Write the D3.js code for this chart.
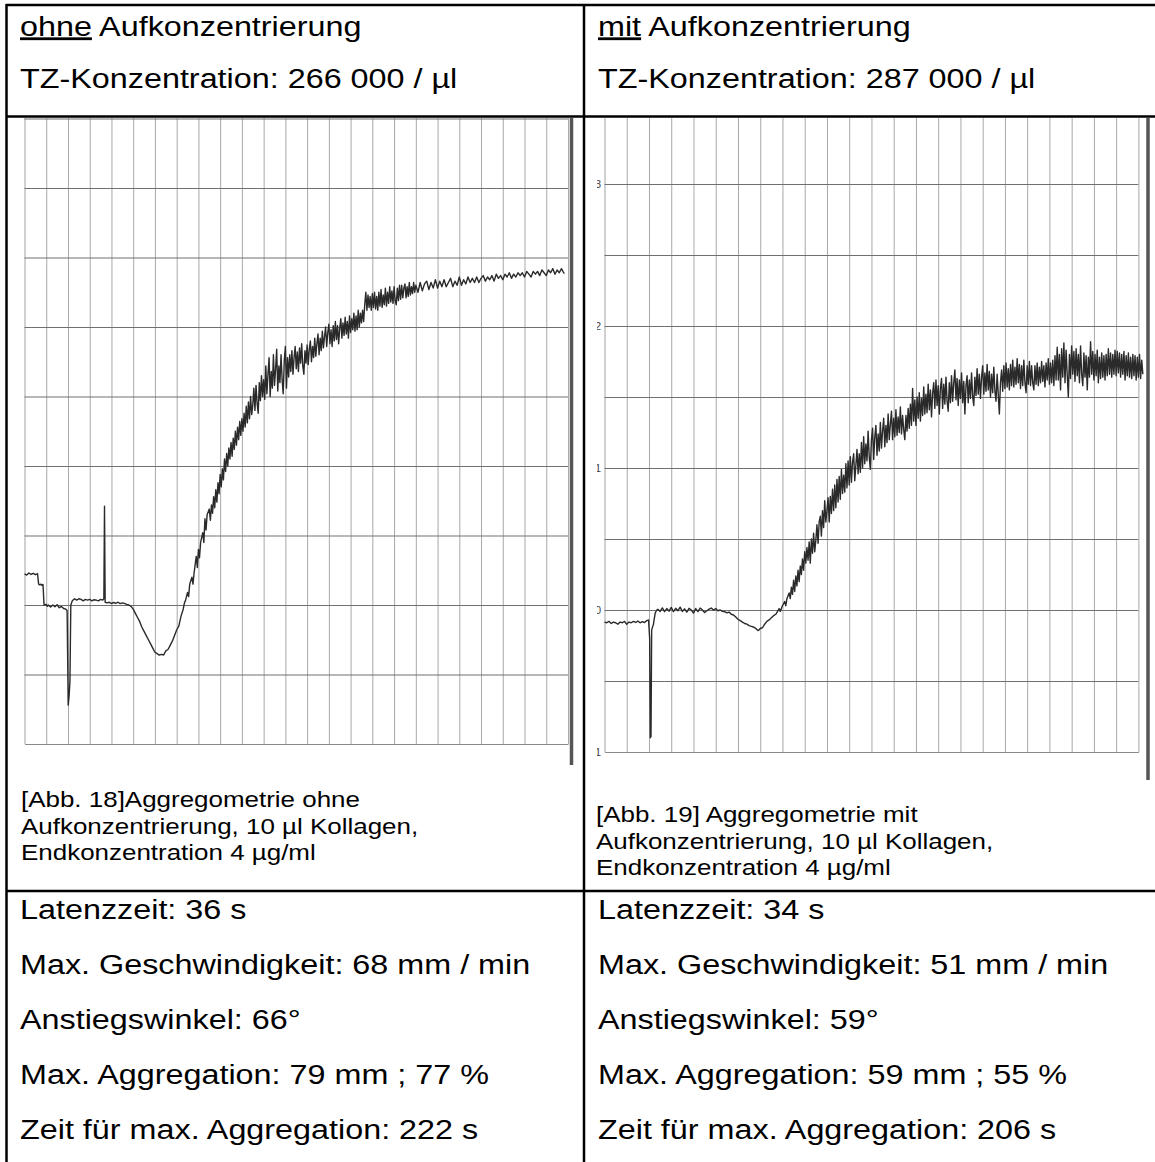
<!DOCTYPE html>
<html>
<head>
<meta charset="utf-8">
<script src="https://cdn.jsdelivr.net/npm/d3@7"></script>
<style>
  body { margin: 0; background: #fff; }
  text { font-family: "Liberation Sans", Arial, sans-serif; }
</style>
</head>
<body>
<svg id="page"></svg>
<script>
// ---- data ----
const timeTicks = [0, 50, 100, 150, 200];
const timeTickLabels = ["0", "50", "1:40", "2:30", "3:20"];
const levelTicks = [-1, 0, 1, 2, 3];
const levelTickLabels = ["-1", "0", "1", "2", "3"];

const headerTitles = [["ohne", " Aufkonzentrierung"], ["mit", " Aufkonzentrierung"]];
const plateletCounts = ["TZ-Konzentration: 266 000 / µl", "TZ-Konzentration: 287 000 / µl"];
const captionsOhne = ["[Abb. 18]Aggregometrie ohne", "Aufkonzentrierung, 10 µl Kollagen,", "Endkonzentration 4 µg/ml"];
const captionsMit = ["[Abb. 19] Aggregometrie mit", "Aufkonzentrierung, 10 µl Kollagen,", "Endkonzentration 4 µg/ml"];
const statLabels = ["Latenzzeit", "Max. Geschwindigkeit", "Anstiegswinkel", "Max. Aggregation", "Zeit für max. Aggregation"];
const statsOhne = ["36 s", "68 mm / min", "66°", "79 mm ; 77 %", "222 s"];
const statsMit = ["34 s", "51 mm / min", "59°", "59 mm ; 55 %", "206 s"];

// [time s, level]
const traceOhne = [
  [0,0.225],[1,0.215],[2,0.23],[3,0.22],[4,0.228],[5,0.218],[6,0.225],[6.5,0.15],[7,0.145],[7.5,0.15],[8,0.142],[8.5,0.148],
  [9,0.0],[10,0.005],[10.5,-0.01],[11,0.0],[12,-0.015],[13,0.0],[14,-0.012],[15,0.002],[16,-0.02],[17,-0.01],[18,-0.025],[19,-0.03],[19.6,-0.04],
  [20.1,-0.72],[20.5,-0.66],[20.9,-0.55],[21.3,0.0],[22,0.03],[23,0.045],[24,0.035],[25,0.045],[26,0.04],[27,0.03],[28,0.04],[29,0.035],
  [30,0.04],[31,0.03],[32,0.038],[33,0.035],[34,0.03],[35,0.04],[36,0.035],[36.5,0.045],[36.8,0.71],[37.1,0.02],[38,0.015],[39,0.02],
  [40,0.01],[41,0.018],[42,0.012],[43,0.02],[44,0.01],[45,0.015],[46,0.012],[47,0.005],[48,0.0],[49,-0.01],
  [50,-0.03],[51,-0.06],[52,-0.09],[53,-0.12],[54,-0.16],[55,-0.19],[56,-0.22],[57,-0.25],[58,-0.28],[59,-0.31],
  [60,-0.34],[61,-0.35],[62,-0.36],[63,-0.355],[64,-0.36],[65,-0.33],[66,-0.32],[67,-0.29],[68,-0.26],[69,-0.22],
  [70,-0.18],[71,-0.15],[72,-0.08],[73,-0.03],[73.5,0.01],[74,0.03],[75,0.09],[75.5,0.06],[76,0.15],[77,0.2],[77.5,0.15],[78,0.23],
  [79,0.35],[79.5,0.27],[80,0.4],[80.5,0.34],[81,0.45],[82,0.52],[82.5,0.45],[83,0.62],[83.5,0.54],[84,0.65],[85,0.69],[85.5,0.61],
  [86,0.72],[86.5,0.66],[87,0.78],[87.5,0.7],[88,0.83],[88.5,0.74],[89,0.88],[89.5,0.8],[90,0.94],[90.5,0.85],[91,0.98],[91.5,0.9],
  [92,1.05],[92.5,0.96],[93,1.09],[93.5,1.0],[94,1.13],[94.5,1.05],[95,1.17],[95.5,1.07],[96,1.2],[96.5,1.12],[97,1.25],[97.5,1.15],
  [98,1.28],[98.5,1.19],[99,1.32],[99.5,1.22],[100,1.34],[100.5,1.25],[101,1.38],[101.5,1.28],[102,1.43],[102.5,1.31],[103,1.46],
  [103.5,1.34],[104,1.5],[104.5,1.37],[105,1.44],[105.5,1.56],[106,1.4],[106.5,1.58],[107,1.45],[107.5,1.38],[108,1.6],[108.5,1.47],
  [109,1.65],[109.5,1.5],[110,1.62],[110.5,1.48],[111,1.72],[111.5,1.52],[112,1.66],[112.5,1.78],[113,1.5],[113.5,1.68],[114,1.56],
  [114.5,1.8],[115,1.58],[115.5,1.7],[116,1.84],[116.5,1.54],[117,1.72],[117.5,1.6],[118,1.8],[118.5,1.62],[119,1.52],[119.5,1.76],
  [120,1.86],[120.5,1.56],[121,1.78],[121.5,1.64],[122,1.8],[122.5,1.68],[123,1.83],[123.5,1.66],[124,1.78],[124.5,1.86],[125,1.7],
  [125.5,1.82],[126,1.68],[126.5,1.85],[127,1.74],[127.5,1.88],[128,1.72],[128.5,1.66],[129,1.83],[129.5,1.74],[130,1.87],[130.5,1.73],
  [131,1.84],[131.5,1.9],[132,1.75],[132.5,1.86],[133,1.78],[133.5,1.92],[134,1.79],[134.5,1.88],[135,1.95],[135.5,1.8],[136,1.92],
  [136.5,1.83],[137,1.97],[137.5,1.85],[138,1.93],[138.5,2.0],[139,1.86],[139.5,1.96],[140,2.02],[140.5,1.88],[141,1.98],[141.5,1.86],
  [142,2.01],[142.5,1.9],[143,2.04],[143.5,1.91],[144,2.01],[144.5,1.88],[145,1.99],[145.5,2.06],[146,1.92],[146.5,2.03],[147,1.94],
  [147.5,2.07],[148,1.95],[148.5,2.04],[149,1.92],[149.5,2.08],[150,1.96],[150.5,2.06],[151,1.98],[151.5,2.1],[152,1.97],[152.5,2.08],
  [153,1.98],[153.5,2.12],[154,2.0],[154.5,2.1],[155,2.03],[155.5,2.12],[156,2.04],[156.5,2.16],[157,2.25],[157.5,2.12],[158,2.23],
  [158.5,2.14],[159,2.22],[159.5,2.12],[160,2.24],[160.5,2.14],[161,2.25],[161.5,2.13],[162,2.22],[162.5,2.12],[163,2.25],[163.5,2.15],
  [164,2.27],[164.5,2.14],[165,2.23],[165.5,2.16],[166,2.28],[166.5,2.15],[167,2.25],[167.5,2.17],[168,2.29],[168.5,2.18],[169,2.26],
  [169.5,2.17],[170,2.29],[170.5,2.19],[171,2.16],[171.5,2.28],[172,2.19],[172.5,2.3],[173,2.2],[173.5,2.3],[174,2.21],[174.5,2.28],
  [175,2.31],[175.5,2.21],[176,2.29],[176.5,2.22],[177,2.32],[177.5,2.23],[178,2.29],[178.5,2.24],[179,2.32],[179.5,2.25],[180,2.3],
  [181,2.25],[182,2.32],[183,2.26],[184,2.31],[185,2.33],[186,2.27],[187,2.32],[188,2.28],[189,2.34],[190,2.28],[191,2.33],[192,2.29],
  [193,2.34],[194,2.29],[195,2.32],[196,2.35],[197,2.29],[198,2.33],[199,2.3],[200,2.36],[201,2.3],[202,2.34],[203,2.31],[204,2.36],
  [205,2.32],[206,2.35],[207,2.32],[208,2.36],[209,2.32],[210,2.35],[211,2.37],[212,2.33],[213,2.36],[214,2.34],[215,2.37],[216,2.33],
  [217,2.38],[218,2.35],[219,2.37],[220,2.34],[221,2.38],[222,2.36],[223,2.39],[224,2.35],[225,2.38],[226,2.36],[227,2.39],[228,2.37],
  [229,2.39],[230,2.36],[231,2.4],[232,2.38],[233,2.36],[234,2.4],[235,2.38],[236,2.4],[237,2.37],[238,2.41],[239,2.39],[240,2.37],
  [241,2.41],[242,2.39],[243,2.42],[244,2.38],[245,2.41],[246,2.39],[247,2.42],[248,2.39],[248.4,2.385]
];

const traceMit = [
  [0,-0.085],[1,-0.09],[2,-0.08],[3,-0.095],[4,-0.085],[5,-0.09],[6,-0.1],[7,-0.085],[8,-0.09],[9,-0.08],[10,-0.1],[11,-0.085],
  [12,-0.09],[13,-0.08],[14,-0.088],[15,-0.078],[16,-0.09],[17,-0.082],[18,-0.088],[19,-0.075],[19.8,-0.07],[20.3,-0.2],[20.6,-0.9],
  [20.9,-0.89],[21.2,-0.14],[22,-0.1],[22.8,-0.02],[23.5,0.0],[24,0.005],[25,-0.01],[26,0.015],[27,-0.012],[28,0.01],[29,-0.008],
  [30,0.018],[31,-0.012],[32,0.012],[33,-0.005],[34,0.02],[35,-0.01],[36,0.008],[37,-0.015],[38,0.012],[39,0.0],[40,-0.022],[41,0.01],
  [42,-0.012],[43,0.014],[44,0.0],[45,-0.018],[46,-0.005],[47,0.006],[48,0.014],[49,0.0],[50,0.01],[51,-0.005],[52,0.0],[53,-0.01],
  [54,-0.012],[55,-0.02],[56,-0.015],[57,-0.03],[58,-0.035],[59,-0.05],[60,-0.065],[61,-0.075],[62,-0.085],[63,-0.095],[64,-0.1],
  [65,-0.11],[66,-0.115],[67,-0.12],[68,-0.13],[69,-0.145],[69.5,-0.14],[70,-0.13],[71,-0.125],[72,-0.1],[73,-0.08],[74,-0.07],
  [75,-0.055],[76,-0.04],[77,-0.03],[78,-0.005],[78.5,0.01],[79,-0.01],[80,0.03],[81,0.06],[81.5,0.03],[82,0.08],[83,0.12],[83.5,0.08],
  [84,0.16],[84.5,0.11],[85,0.21],[85.5,0.13],[86,0.24],[86.5,0.17],[87,0.28],[87.5,0.2],[88,0.31],[88.5,0.25],[89,0.36],[89.5,0.28],
  [90,0.41],[90.5,0.33],[91,0.44],[91.5,0.35],[92,0.48],[92.5,0.33],[93,0.5],[93.5,0.4],[94,0.54],[94.5,0.41],[95,0.49],[95.5,0.6],
  [96,0.47],[96.5,0.62],[97,0.66],[97.5,0.52],[98,0.7],[98.5,0.58],[99,0.77],[99.5,0.62],[100,0.7],[100.5,0.79],[101,0.62],[101.5,0.8],
  [102,0.68],[102.5,0.85],[103,0.7],[103.5,0.88],[104,0.72],[104.5,0.92],[105,0.76],[105.5,0.94],[106,0.78],[106.5,0.99],[107,0.82],
  [107.5,0.95],[108,0.83],[108.5,1.03],[109,0.86],[109.5,1.05],[110,0.88],[110.5,1.08],[111,0.9],[111.5,1.04],[112,1.1],[112.5,0.91],
  [113,1.02],[113.5,1.13],[114,0.96],[114.5,1.1],[115,0.97],[115.5,1.18],[116,1.0],[116.5,1.22],[117,1.03],[117.5,1.17],[118,1.05],
  [118.5,1.26],[119,1.08],[119.5,0.99],[120,1.2],[120.5,1.28],[121,1.06],[121.5,1.22],[122,1.3],[122.5,1.09],[123,1.24],[123.5,1.12],
  [124,1.32],[124.5,1.14],[125,1.26],[125.5,1.35],[126,1.15],[126.5,1.3],[127,1.18],[127.5,1.38],[128,1.2],[128.5,1.31],[129,1.4],
  [129.5,1.2],[130,1.35],[130.5,1.22],[131,1.41],[131.5,1.23],[132,1.36],[132.5,1.25],[133,1.43],[133.5,1.24],[134,1.37],[134.5,1.27],
  [135,1.2],[135.5,1.37],[136,1.26],[136.5,1.42],[137,1.28],[137.5,1.45],[138,1.3],[138.5,1.56],[139,1.33],[139.5,1.48],[140,1.3],
  [140.5,1.5],[141,1.35],[141.5,1.53],[142,1.33],[142.5,1.49],[143,1.37],[143.5,1.57],[144,1.38],[144.5,1.52],[145,1.39],[145.5,1.59],
  [146,1.41],[146.5,1.55],[147,1.36],[147.5,1.53],[148,1.6],[148.5,1.42],[149,1.62],[149.5,1.44],[150,1.58],[150.5,1.38],[151,1.56],
  [151.5,1.63],[152,1.42],[152.5,1.59],[153,1.45],[153.5,1.64],[154,1.47],[154.5,1.4],[155,1.6],[155.5,1.46],[156,1.65],[156.5,1.47],
  [157,1.6],[157.5,1.69],[158,1.48],[158.5,1.63],[159,1.44],[159.5,1.62],[160,1.49],[160.5,1.67],[161,1.46],[161.5,1.61],[162,1.38],
  [162.5,1.58],[163,1.65],[163.5,1.46],[164,1.62],[164.5,1.49],[165,1.67],[165.5,1.5],[166,1.44],[166.5,1.64],[167,1.51],[167.5,1.7],
  [168,1.52],[168.5,1.66],[169,1.49],[169.5,1.64],[170,1.72],[170.5,1.52],[171,1.67],[171.5,1.54],[172,1.73],[172.5,1.55],[173,1.68],
  [173.5,1.5],[174,1.66],[174.5,1.53],[175,1.71],[175.5,1.54],[176,1.47],[176.5,1.66],[177,1.52],[177.5,1.38],[178,1.6],[178.5,1.69],
  [179,1.54],[179.5,1.72],[180,1.56],[180.5,1.74],[181,1.57],[181.5,1.7],[182,1.55],[182.5,1.73],[183,1.58],[183.5,1.76],[184,1.57],
  [184.5,1.71],[185,1.59],[185.5,1.77],[186,1.6],[186.5,1.73],[187,1.56],[187.5,1.72],[188,1.58],[188.5,1.76],[189,1.6],[189.5,1.53],
  [190,1.72],[190.5,1.59],[191,1.75],[191.5,1.58],[192,1.72],[192.5,1.6],[193,1.55],[193.5,1.72],[194,1.59],[194.5,1.74],[195,1.58],
  [195.5,1.71],[196,1.6],[196.5,1.75],[197,1.61],[197.5,1.72],[198,1.57],[198.5,1.74],[199,1.62],[199.5,1.77],[200,1.59],[200.5,1.74],
  [201,1.6],[201.5,1.76],[202,1.58],[202.5,1.79],[203,1.62],[203.5,1.85],[204,1.62],[204.5,1.8],[205,1.55],[205.5,1.84],[206,1.64],
  [206.5,1.88],[207,1.6],[207.5,1.83],[208,1.66],[208.5,1.5],[209,1.8],[209.5,1.63],[210,1.86],[210.5,1.66],[211,1.82],[211.5,1.61],
  [212,1.84],[212.5,1.65],[213,1.8],[213.5,1.6],[214,1.86],[214.5,1.66],[215,1.58],[215.5,1.81],[216,1.64],[216.5,1.79],[217,1.55],
  [217.5,1.78],[218,1.64],[218.5,1.89],[219,1.66],[219.5,1.82],[220,1.62],[220.5,1.8],[221,1.65],[221.5,1.83],[222,1.6],[222.5,1.78],
  [223,1.63],[223.5,1.81],[224,1.64],[224.5,1.79],[225,1.62],[225.5,1.8],[226,1.65],[226.5,1.84],[227,1.66],[227.5,1.81],[228,1.64],
  [228.5,1.8],[229,1.66],[229.5,1.83],[230,1.65],[230.5,1.82],[231,1.67],[231.5,1.81],[232,1.64],[232.5,1.8],[233,1.66],[233.5,1.82],
  [234,1.62],[234.5,1.79],[235,1.65],[235.5,1.81],[236,1.64],[236.5,1.78],[237,1.63],[237.5,1.8],[238,1.65],[238.5,1.79],[239,1.62],
  [239.5,1.78],[240,1.64],[240.5,1.8],[241,1.63],[241.5,1.76],[242,1.66]
];

// ---- page ----
const W = 1155, H = 1162;
const svg = d3.select("#page").attr("width", W).attr("height", H);
svg.append("rect").attr("width", W).attr("height", H).attr("fill", "#fff");
const defs = svg.append("defs");

function DrawTrace(id, o) {
    const x = d3.scaleLinear().domain([0, o.tMax]).range([o.x0, o.x1]);
    const y = d3.scaleLinear().domain([-1, 3.5]).range([o.yBottom, o.yTop]);
    const top = 118;

    defs.append("clipPath").attr("id", id + "-clip")
        .append("rect").attr("x", o.clipLeft).attr("y", top)
        .attr("width", o.barX - o.clipLeft).attr("height", o.barBottom - top);
    defs.append("clipPath").attr("id", id + "-zero")
        .append("rect").attr("x", o.x0 - 0.5).attr("y", top)
        .attr("width", o.barX - o.x0).attr("height", o.barBottom - top + 20);

    const g = svg.append("g").attr("clip-path", `url(#${id}-clip)`);

    // vertical grid, 10 s
    const vGrid = g.append("g")
        .attr("transform", `translate(0, ${o.yBottom})`)
        .call(d3.axisBottom(x).tickValues(d3.range(0, o.tMax + 1, 10))
            .tickSize(-(o.yBottom - top)).tickSizeOuter(0).tickFormat(""));
    vGrid.selectAll(".tick line").attr("stroke", "#a8a8a8").attr("stroke-width", 1);
    vGrid.select(".domain").attr("stroke", "#8a8a8a").attr("stroke-width", 1.2);

    // horizontal grid
    const hGrid = g.append("g")
        .attr("transform", `translate(${o.x0}, 0)`)
        .call(d3.axisLeft(y).tickValues(d3.range(-0.5, 3.51, 0.5))
            .tickSize(-(o.x1 - o.x0)).tickSizeOuter(0).tickFormat(""));
    hGrid.selectAll(".tick line").attr("stroke", "#707070").attr("stroke-width", 1.2);
    hGrid.select(".domain").attr("stroke", "#c8c8c8").attr("stroke-dasharray", "2,2");

    // level labels (cut by the picture edge)
    if (o.levelLabels) {
        const yl = g.append("g")
            .attr("transform", `translate(${o.x0 - 3.5}, 0)`)
            .call(d3.axisLeft(y).tickValues(levelTicks).tickSize(0).tickPadding(0)
                .tickFormat((d, i) => levelTickLabels[i]));
        yl.select(".domain").remove();
        yl.selectAll("text").attr("font-size", 11).attr("fill", "#444")
            .attr("font-family", "'Liberation Sans', Arial, sans-serif");
    }

    // time labels
    const xl = svg.append("g")
        .attr("clip-path", `url(#${id}-zero)`)
        .attr("transform", `translate(0, ${o.labelY})`)
        .call(d3.axisBottom(x).tickValues(timeTicks).tickSize(0).tickPadding(0)
            .tickFormat((d, i) => timeTickLabels[i]));
    xl.select(".domain").remove();
    xl.selectAll("text").attr("font-size", 12.5).attr("fill", "#333").attr("dy", 0)
        .attr("font-family", "'Liberation Sans', Arial, sans-serif");

    // trace
    const line = d3.line().x(d => x(d[0])).y(d => y(d[1]));
    g.append("path").datum(o.data)
        .attr("d", line)
        .attr("fill", "none")
        .attr("stroke", "#2a2a2a")
        .attr("stroke-width", 1.4)
        .attr("stroke-linejoin", "round");

    // thick bar at right edge
    svg.append("line")
        .attr("x1", o.barX).attr("x2", o.barX)
        .attr("y1", top).attr("y2", o.barBottom)
        .attr("stroke", "#555").attr("stroke-width", 3.5);
}

DrawTrace("ohne", {
    data: traceOhne, tMax: 250, x0: 24.5, x1: 568,
    yBottom: 744, yTop: 118.5, clipLeft: 24, barX: 571.5, barBottom: 765,
    labelY: 762, levelLabels: false
});

DrawTrace("mit", {
    data: traceMit, tMax: 240, x0: 604.5, x1: 1138.4,
    yBottom: 752, yTop: 113, clipLeft: 597, barX: 1148, barBottom: 780,
    labelY: 768, levelLabels: true
});

// ---- texts ----
function addText(x, y, size, sx, parts) {
    const t = svg.append("text")
        .attr("transform", `translate(${x}, ${y}) scale(${sx}, 1)`)
        .attr("font-size", size)
        .attr("fill", "#000");
    parts.forEach(p => {
        const s = t.append("tspan").text(p.t);
        if (p.u) s.attr("text-decoration", "underline");
    });
}

const colX = [20, 598];
const mainSize = 28, mainScale = 1.155;
headerTitles.forEach((h, i) => {
    addText(colX[i], 35.5, mainSize, mainScale, [{ t: h[0], u: true }, { t: h[1] }]);
    addText(colX[i], 88, mainSize, mainScale, [{ t: plateletCounts[i] }]);
});

captionsOhne.forEach((c, i) => addText(21, 807 + i * 26.7, 22, 1.18, [{ t: c }]));
captionsMit.forEach((c, i) => addText(596, 822 + i * 26.7, 22, 1.18, [{ t: c }]));

const statY = [919, 974, 1029, 1084, 1139];
statLabels.forEach((l, i) => {
    addText(colX[0], statY[i], mainSize, mainScale, [{ t: `${l}: ${statsOhne[i]}` }]);
    addText(colX[1], statY[i], mainSize, mainScale, [{ t: `${l}: ${statsMit[i]}` }]);
});

// ---- table rules ----
const rules = [
    [6, 5, W, 5],
    [6.5, 4, 6.5, H],
    [584, 4, 584, H],
    [6, 116.5, W, 116.5],
    [6, 891, W, 891]
];
svg.selectAll(".rule")
    .data(rules)
    .enter()
    .append("line")
    .attr("class", "rule")
    .attr("x1", d => d[0]).attr("y1", d => d[1])
    .attr("x2", d => d[2]).attr("y2", d => d[3])
    .attr("stroke", "#000")
    .attr("stroke-width", 2.5);
</script>
</body>
</html>
